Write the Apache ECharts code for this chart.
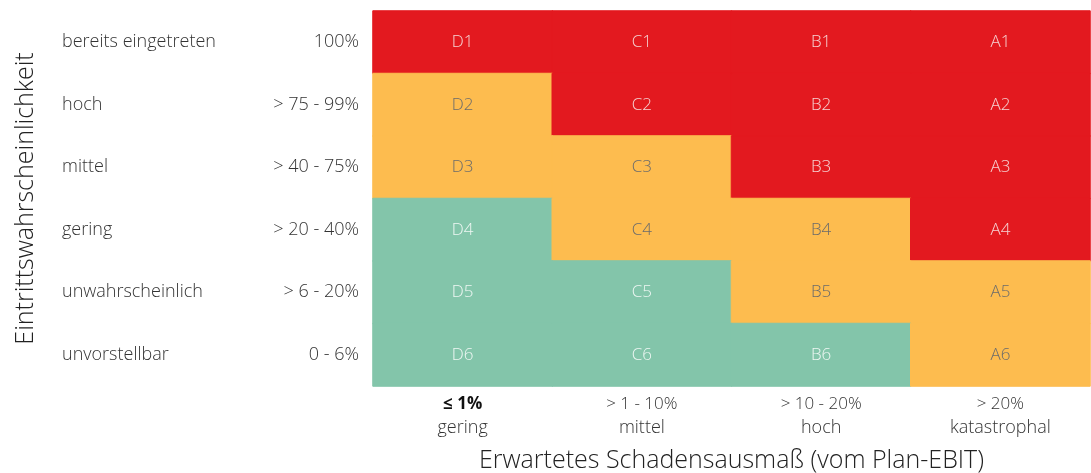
<!DOCTYPE html>
<html><head><meta charset="utf-8">
<script src="https://cdn.jsdelivr.net/npm/echarts@6/dist/echarts.min.js"></script>
<style>html,body{margin:0;padding:0;background:#fff}#c{width:1091px;height:473px}</style>
</head><body><div id="c"></div>
<script>
const columns = ['D', 'C', 'B', 'A'];
const xTop = ['≤ 1%', '> 1 - 10%', '> 10 - 20%', '> 20%'];
const xBottom = ['gering', 'mittel', 'hoch', 'katastrophal'];
const rowNames = ['bereits eingetreten', 'hoch', 'mittel', 'gering', 'unwahrscheinlich', 'unvorstellbar'];
const rowPct = ['100%', '> 75 - 99%', '> 40 - 75%', '> 20 - 40%', '> 6 - 20%', '0 - 6%'];
// risk level per row (top to bottom), per column D,C,B,A : 3 = rot, 2 = orange, 1 = grün
const levels = [
  [3, 3, 3, 3],
  [2, 3, 3, 3],
  [2, 2, 3, 3],
  [1, 2, 2, 3],
  [1, 1, 2, 2],
  [1, 1, 1, 2]
];
const xTitle = 'Erwartetes Schadensausmaß (vom Plan-EBIT)';
const yTitle = 'Eintrittswahrscheinlichkeit';

const fillColor = {3: '#E3191F', 2: '#FDBC4F', 1: '#83C5AA'};
const textColor = {3: '#F6D3D3', 2: '#6B6B6B', 1: '#EEF7F3'};

const data = [];
levels.forEach((row, r) => row.forEach((lv, c) => {
  data.push({
    value: [c, r, lv],
    name: columns[c] + (r + 1),
    itemStyle: {color: fillColor[lv], borderColor: fillColor[lv], borderWidth: 1},
    label: {color: textColor[lv]}
  });
}));

const font = '"Open Sans", Lato, sans-serif';
const chart = echarts.init(document.getElementById('c'), null, {renderer: 'canvas'});
chart.setOption({
  animation: false,
  grid: {left: 373, right: 1, top: 11, bottom: 87, outerBoundsMode: 'none', containLabel: false},
  xAxis: {
    type: 'category',
    data: columns.map((c, i) => i),
    axisLine: {show: false}, axisTick: {show: false}, splitLine: {show: false},
    axisLabel: {
      margin: 6,
      formatter: (v, i) => '{' + (i === 0 ? 't0' : 't') + '|' + xTop[i] + '}\n{b|' + xBottom[i] + '}',
      rich: {
        t0: {fontFamily: font, fontSize: 17, fontWeight: 'bold', color: '#111', lineHeight: 24},
        t: {fontFamily: font, fontSize: 17, fontWeight: 300, color: '#333', lineHeight: 24},
        b: {fontFamily: font, fontSize: 18, fontWeight: 300, color: '#333', lineHeight: 24}
      }
    },
    name: xTitle,
    nameLocation: 'middle',
    nameGap: 62,
    nameTextStyle: {fontFamily: font, fontSize: 25, fontWeight: 300, color: '#222'}
  },
  yAxis: {
    type: 'category',
    inverse: true,
    data: rowNames.map((n, i) => i),
    axisLine: {show: false}, axisTick: {show: false}, splitLine: {show: false},
    axisLabel: {
      margin: 14,
      formatter: (v, i) => '{a|' + rowNames[i] + '}{p|' + rowPct[i] + '}',
      rich: {
        a: {fontFamily: font, fontSize: 18, fontWeight: 300, color: '#333', width: 200, align: 'left'},
        p: {fontFamily: font, fontSize: 18, fontWeight: 300, color: '#333', width: 97, align: 'right'}
      }
    },
    name: yTitle,
    nameLocation: 'middle',
    nameGap: 335,
    nameRotate: 90,
    nameTextStyle: {fontFamily: font, fontSize: 25, fontWeight: 300, color: '#222'}
  },
  series: [{
    type: 'heatmap',
    data: data,
    label: {
      show: true,
      fontFamily: font,
      fontSize: 17,
      fontWeight: 300,
      formatter: p => p.name
    },
    emphasis: {disabled: true}
  }]
});
</script></body></html>
